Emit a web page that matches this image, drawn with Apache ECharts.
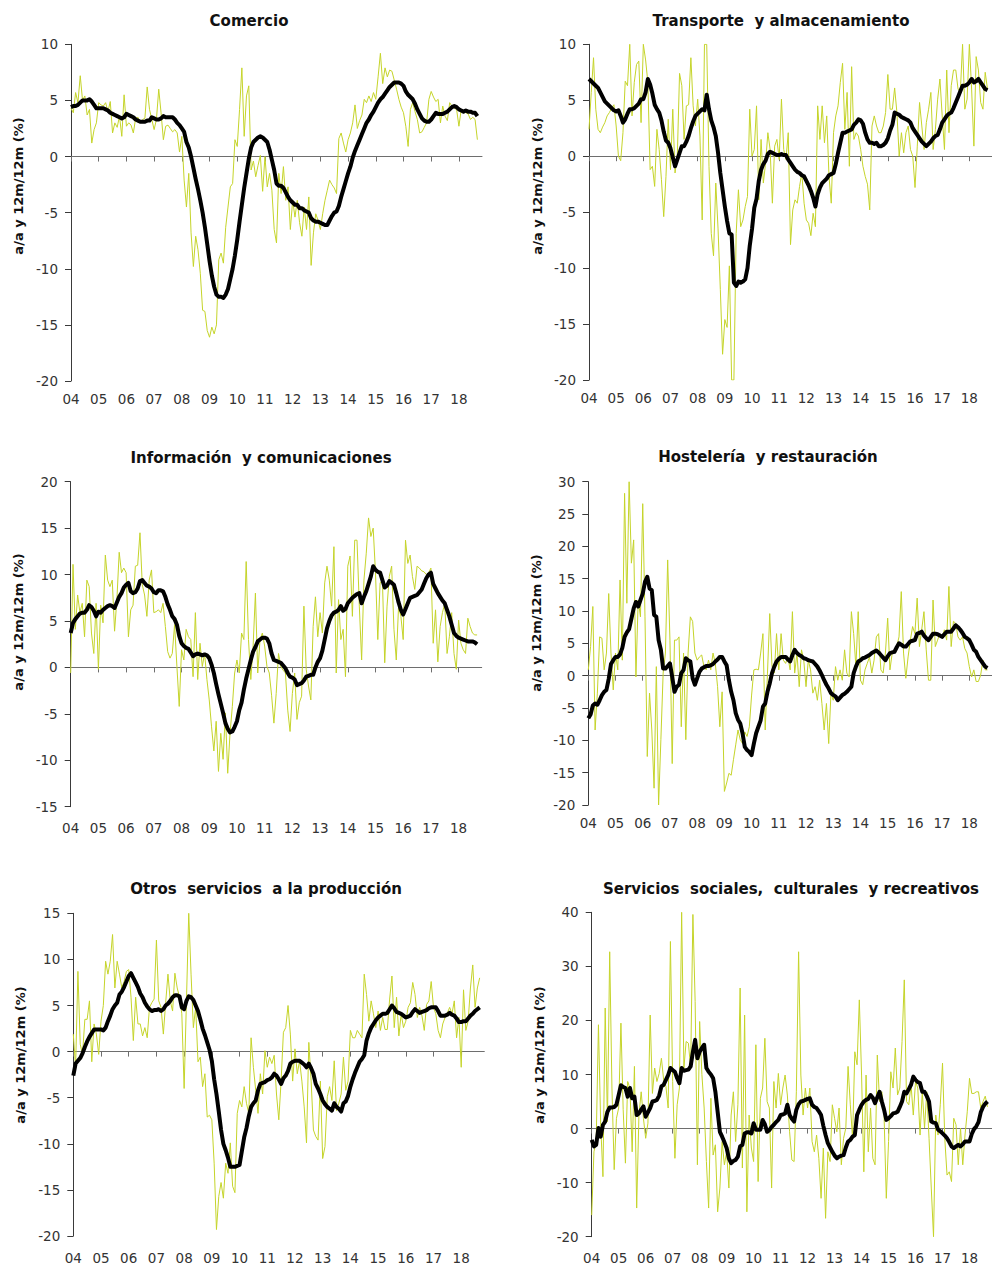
<!DOCTYPE html>
<html lang="es">
<head>
<meta charset="UTF-8">
<title>Servicios: tasas a/a y 12m/12m</title>
<script src="https://cdn.jsdelivr.net/npm/echarts@6.0.0/dist/echarts.min.js"></script>
<style>
    html, body { margin:0; padding:0; background:#fff; }
    #main { width:992px; height:1265px; }
</style>
</head>
<body>
<div id="main"></div>
<script>
// indice de mes: 0 = ene 2004 ... 176 = sep 2018
var yearTicks = [0, 12, 24, 36, 48, 60, 72, 84, 96, 108, 120, 132, 144, 156, 168];
var yearLabels = ['04', '05', '06', '07', '08', '09', '10', '11', '12', '13', '14', '15', '16', '17', '18'];

// Comercio
var comercioAa = [
    4.3, 3.9, 5.7, 4.8, 7.2, 5.0, 5.4, 3.7, 4.2, 1.2, 2.4, 3.0,
    4.8, 4.6, 4.5, 4.8, 4.0, 4.9, 2.1, 3.0, 2.6, 3.6, 1.8, 5.5,
    2.7, 3.0, 2.8, 2.1, 3.4, 3.5, 3.0, 3.3, 3.4, 6.2, 4.2, 3.3,
    2.4, 3.3, 6.0, 3.9, 1.5, 2.7, 2.8, 2.5, 2.2, 2.4, 2.1, 0.4,
    1.8, -2.1, -4.5, -1.5, -6.8, -9.8, -7.1, -8.3, -10.4, -13.7, -13.8, -15.5,
    -16.1, -15.2, -15.8, -15.0, -9.2, -8.6, -9.5, -6.3, -4.5, -2.7, -2.4, 1.5,
    0.9, 4.2, 7.9, 1.8, 5.4, 6.3, -1.2, -0.4, -1.8, -0.8, 0.1, -3.1,
    0.0, -2.7, -1.5, -3.0, -6.5, -7.7, -1.5, -3.3, -0.9, -3.9, -2.7, -6.5,
    -3.9, -5.4, -3.9, -5.9, -7.1, -4.5, -6.5, -3.6, -9.7, -6.8, -5.1, -5.7,
    -6.5, -5.1, -3.9, -3.0, -2.1, -2.5, -2.8, -3.3, 1.6, 2.1, 1.2, 0.4,
    1.5, 2.1, 3.0, 4.6, 2.5, 3.2, 3.7, 5.1, 4.8, 5.4, 4.9, 5.7,
    5.1, 7.1, 9.2, 6.5, 7.9, 7.1, 7.7, 7.6, 6.8, 6.0, 5.1, 4.4,
    3.9, 2.7, 0.9, 4.2, 4.8, 4.0, 3.3, 2.1, 2.2, 2.6, 3.0, 5.1,
    5.8, 5.3, 4.9, 5.1, 3.0, 4.5, 3.6, 3.2, 4.8, 4.5, 4.3, 4.2,
    2.7, 4.2, 4.0, 3.9, 3.8, 3.3, 3.5, 3.3, 1.5
];
var comercio12m = [
    4.4, 4.5, 4.5, 4.6, 4.8, 5.0, 5.0, 5.0, 5.1, 4.9, 4.6, 4.3,
    4.3, 4.3, 4.3, 4.2, 4.1, 3.9, 3.8, 3.7, 3.6, 3.5, 3.4, 3.5,
    3.8, 3.7, 3.6, 3.5, 3.3, 3.2, 3.1, 3.1, 3.1, 3.2, 3.2, 3.5,
    3.4, 3.3, 3.3, 3.4, 3.6, 3.5, 3.5, 3.5, 3.5, 3.3, 3.0, 2.8,
    2.5, 2.2, 1.3, 0.8, 0.0, -1.0, -2.0, -2.9, -3.9, -5.0, -6.3, -7.8,
    -9.3, -10.6, -11.6, -12.3, -12.5, -12.5, -12.6, -12.3, -11.8, -10.9, -10.0, -8.8,
    -7.4, -5.8, -4.3, -2.8, -1.5, -0.2, 0.8, 1.3, 1.5, 1.7, 1.8, 1.7,
    1.5, 1.3, 0.6, -0.3, -1.2, -2.4, -2.6, -2.6, -2.8, -3.2, -3.6, -3.9,
    -4.1, -4.3, -4.3, -4.6, -4.6, -4.8, -4.9, -5.0, -5.5, -5.7, -5.8, -5.8,
    -5.9, -6.0, -6.1, -6.1, -5.7, -5.3, -5.0, -4.9, -4.4, -3.6, -2.9, -2.2,
    -1.5, -0.9, -0.1, 0.5, 1.0, 1.5, 2.0, 2.5, 3.0, 3.3, 3.7, 4.0,
    4.4, 4.8, 5.1, 5.3, 5.6, 5.9, 6.2, 6.4, 6.6, 6.6, 6.6, 6.5,
    6.3, 5.8, 5.5, 5.3, 5.1, 4.7, 4.2, 3.8, 3.4, 3.2, 3.1, 3.1,
    3.3, 3.6, 3.9, 3.8, 3.8, 3.8, 3.9, 4.0, 4.2, 4.4, 4.5, 4.4,
    4.2, 4.1, 4.0, 4.1, 4.0, 4.0, 3.9, 3.9, 3.6
];

// Transporte y almacenamiento
var transporteAa = [
    2.4, 5.7, 8.8, 4.2, 2.4, 2.1, 2.6, 3.0, 3.6, 3.9, 4.3, 4.6,
    2.7, 0.0, -0.4, 2.1, 6.7, 6.3, 10.0, 3.6, 6.6, 8.2, 8.5, 3.0,
    10.0, 8.6, 6.6, -1.2, -0.9, -2.7, 2.4, 0.6, -2.1, -5.4, -1.8, 3.3,
    -1.2, 4.2, -1.5, 0.0, 7.4, 6.3, 1.5, 4.5, 4.6, 8.8, 4.5, 2.7,
    5.1, 1.8, -5.7, 10.0, 10.0, -0.9, -6.9, -8.9, -2.4, -6.5, -11.9, -17.7,
    -14.6, -15.3, -9.8, -20.0, -20.0, -6.9, -3.0, -6.3, -5.7, -4.5, -3.6, 4.2,
    0.0, 0.6, 4.5, -3.9, 1.5, -2.4, -0.6, 2.1, 0.6, -4.2, 0.9, 1.5,
    -0.3, 5.1, 0.6, -0.3, 2.1, -7.9, -4.8, -3.9, -4.2, -2.7, -1.5, -4.2,
    -5.7, -6.0, -7.1, -5.1, -6.3, 4.5, 1.5, 4.5, 1.2, 3.6, -1.8, -4.2,
    2.1, 3.6, 4.5, 6.6, 8.3, 2.4, 5.7, -0.9, 8.0, 1.5, 2.1, 1.8,
    0.6, -0.9, -1.8, -2.5, -4.8, 2.7, 3.6, 2.7, 2.1, 2.1, 2.7, 3.9,
    7.3, 4.2, 4.2, 6.1, 3.9, 0.0, 2.1, 0.3, 2.1, 2.7, 0.6, 0.0,
    -2.8, 0.9, 4.8, 2.7, 0.6, 3.0, 4.2, 5.7, 0.6, 2.4, 5.1, 6.9,
    3.6, 0.6, 7.7, 2.1, 6.3, 7.7, 7.7, 6.0, 5.7, 10.0, 4.2, 5.1,
    10.0, 6.0, 0.9, 8.9, 7.7, 4.8, 4.2, 7.5, 6.0
];
var transporte12m = [
    6.9, 6.7, 6.5, 6.3, 6.1, 5.7, 5.3, 4.9, 4.7, 4.5, 4.3, 4.1,
    4.0, 4.1, 3.6, 3.0, 3.3, 3.8, 4.2, 4.2, 4.3, 4.5, 4.7, 5.1,
    5.1, 5.7, 6.9, 6.4, 5.6, 4.6, 4.2, 3.9, 3.2, 2.2, 1.4, 1.2,
    0.7, -0.1, -0.9, -0.3, 0.3, 0.9, 0.9, 1.3, 1.8, 2.5, 3.1, 3.6,
    3.8, 4.0, 4.2, 4.1, 5.5, 4.2, 3.2, 2.6, 1.8, 0.3, -1.5, -3.0,
    -4.5, -5.8, -6.9, -7.0, -11.3, -11.6, -11.2, -11.3, -11.2, -11.0, -10.0, -8.0,
    -6.5, -4.6, -3.8, -2.2, -1.2, -0.7, -0.4, 0.2, 0.4, 0.3, 0.2, 0.1,
    0.1, 0.2, 0.1, 0.1, -0.3, -0.6, -0.9, -1.2, -1.4, -1.5, -1.7, -1.8,
    -2.2, -2.6, -3.1, -3.7, -4.5, -3.4, -2.8, -2.4, -2.2, -2.0, -1.7, -1.6,
    -1.5, -0.7, 0.3, 1.2, 2.1, 2.1, 2.2, 2.3, 2.4, 2.8, 3.0, 3.3,
    3.2, 2.9, 2.1, 1.5, 1.2, 1.2, 1.1, 1.2, 0.9, 0.9, 1.0, 1.2,
    1.6, 2.3, 2.8, 3.9, 3.8, 3.7, 3.5, 3.4, 3.3, 3.2, 3.0, 2.5,
    2.2, 1.9, 1.6, 1.3, 1.1, 0.9, 1.1, 1.3, 1.6, 1.8, 1.9, 2.4,
    3.0, 3.3, 3.6, 3.8, 3.9, 4.3, 4.8, 5.3, 5.8, 6.3, 6.3, 6.4,
    6.6, 6.9, 6.6, 6.7, 6.9, 6.6, 6.3, 6.0, 5.9
];

// Información y comunicaciones
var informacionAa = [
    -0.6, 11.1, 4.1, 7.8, 5.9, 6.9, 3.3, 9.4, 8.7, 3.7, 1.5, 6.9,
    -0.2, 6.7, 4.8, 12.1, 9.4, 8.7, 9.4, 3.9, 7.3, 12.4, 10.2, 10.7,
    10.2, 3.3, 6.2, 6.7, 10.9, 11.0, 14.5, 8.9, 7.8, 5.5, 9.4, 10.5,
    5.9, 6.0, 6.2, 5.9, 6.9, 4.4, 1.7, 1.0, 1.5, 4.6, 0.1, -4.2,
    1.9, 0.8, 4.1, 3.3, 3.0, -1.0, 5.9, -1.3, 2.6, 0.1, 1.5, -1.3,
    -3.5, -6.4, -9.0, -5.8, -11.2, -7.1, -9.9, -4.9, -11.4, -7.1, -4.2, -0.6,
    0.8, -0.6, 3.7, 3.0, 11.4, 3.0, -1.3, 2.3, 8.0, -0.6, 3.0, 3.7,
    2.3, 0.1, -0.6, -3.0, -6.0, -2.8, 1.5, 0.1, -0.3, -0.6, -4.6, -6.9,
    -2.8, -0.6, -5.6, -3.8, -3.1, 6.6, -0.2, -2.0, -3.5, 4.4, 7.6, 3.3,
    5.9, 3.7, 9.1, 10.9, 9.4, 6.6, 13.0, -0.6, 7.3, 3.0, 4.1, -1.0,
    10.9, 12.0, 5.5, 13.7, 13.7, 6.6, 0.8, 9.4, 12.3, 16.1, 14.1, 15.0,
    10.2, 3.0, 9.1, 9.4, 0.5, 6.6, 9.8, 10.9, 4.1, 0.8, 6.6, 5.5,
    3.0, 13.7, 11.2, 12.1, 9.8, 8.4, 10.9, 10.7, 10.4, 10.3, 10.0, 10.2,
    10.7, 2.6, 6.2, 0.6, 4.4, 5.9, 6.9, 1.5, 3.3, 5.9, 1.5, -0.2,
    5.1, 2.6, 1.9, 1.5, 5.3, 4.4, 3.7, 3.5, 3.5
];
var informacion12m = [
    3.7, 4.8, 5.2, 5.5, 5.8, 5.9, 5.9, 6.2, 6.7, 6.5, 6.1, 5.5,
    6.0, 5.9, 6.2, 6.4, 6.6, 6.7, 6.6, 6.4, 7.0, 7.6, 8.0, 8.6,
    8.9, 9.1, 8.2, 8.0, 8.1, 8.5, 9.3, 9.4, 9.1, 8.8, 8.7, 8.5,
    8.1, 8.0, 8.3, 8.3, 8.2, 7.6, 6.8, 6.2, 5.5, 5.2, 4.6, 3.4,
    2.6, 2.3, 2.1, 2.0, 1.6, 1.2, 1.4, 1.5, 1.4, 1.3, 1.4, 1.3,
    1.0, 0.3, -0.6, -1.8, -2.9, -3.9, -4.9, -6.0, -6.6, -7.0, -6.9, -6.4,
    -5.8, -4.6, -3.8, -2.4, -1.2, -0.2, 0.8, 1.7, 2.2, 2.8, 3.0, 3.2,
    3.2, 3.1, 2.6, 1.5, 0.8, 0.7, 0.6, 0.5, 0.2, -0.1, -0.6, -1.0,
    -1.1, -1.3, -1.9, -1.8, -1.7, -1.4, -1.0, -0.9, -0.8, -0.8, 0.0, 0.6,
    1.0, 1.8, 3.0, 4.2, 5.0, 5.6, 5.9, 6.0, 6.2, 6.6, 6.1, 6.3,
    6.9, 7.2, 7.5, 7.7, 7.9, 8.0, 6.9, 7.6, 8.2, 9.0, 9.8, 10.9,
    10.5, 10.3, 10.2, 9.4, 8.6, 8.8, 9.3, 9.1, 8.9, 8.0, 7.0, 6.2,
    5.7, 6.3, 6.9, 7.5, 7.6, 7.7, 7.8, 8.1, 8.4, 9.0, 9.6, 10.0,
    10.2, 9.0, 8.5, 8.0, 7.6, 7.2, 6.9, 6.2, 5.5, 4.6, 3.7, 3.4,
    3.2, 3.1, 3.0, 2.9, 2.8, 2.8, 2.8, 2.7, 2.5
];

// Hostelería y restauración
var hosteleriaAa = [
    0.9, 4.5, 10.7, -8.4, -2.7, 6.0, 5.8, 0.9, 3.5, 12.7, 3.5, -2.2,
    3.5, 0.9, 14.8, 2.4, 28.2, 11.2, 30.0, 17.4, 21.0, -0.2, 11.7, 9.1,
    26.6, 9.1, -12.5, -2.7, -8.4, -17.4, 1.4, -20.0, -9.9, 0.4, 3.5, 17.9,
    5.5, -13.6, 5.5, 5.5, 6.0, -7.9, 3.5, -9.9, 3.5, 9.1, 8.4, 3.5,
    2.4, 2.9, 3.2, 1.4, 0.9, 2.4, 0.9, 3.5, 1.9, -1.7, -7.9, -2.5,
    -17.9, -16.6, -15.1, -15.4, -13.0, -10.7, -8.4, -9.9, -10.5, -8.7, -9.4, -7.9,
    -3.0, 0.9, 1.0, 0.9, 3.5, 6.5, -8.4, 0.4, 9.6, 1.4, 0.4, 6.5,
    0.9, 6.5, 2.4, 1.9, 2.9, 0.9, 9.9, 0.4, 3.5, -1.7, 4.0, 2.4,
    -1.7, 2.4, 0.9, -2.7, -1.7, -3.8, -0.7, -4.3, -8.4, -4.3, -10.5, -2.7,
    -3.8, 1.4, -0.7, 0.9, -0.7, 4.0, 0.4, -0.2, 9.9, 6.5, 1.4, 9.9,
    -0.7, -1.4, 0.9, 1.9, 2.9, 0.4, 2.4, 6.0, 6.5, 0.9, 0.4, 3.5,
    8.9, 0.9, 3.5, 4.0, 4.5, 6.0, 13.0, 3.5, -0.4, 2.9, 5.5, 7.6,
    6.5, 12.0, 4.5, 7.1, 9.9, 4.0, -0.7, -0.7, 11.7, 4.5, 5.5, 6.5,
    6.0, 7.1, 5.5, 13.8, 4.5, 8.4, 8.1, 6.0, 5.5, 6.0, 4.2, 3.5,
    1.4, -0.2, 0.9, -0.9, -0.9, 0.1, 2.4, 0.9, 0.9
];
var hosteleria12m = [
    -6.6, -6.0, -4.6, -4.3, -4.5, -3.8, -3.0, -2.5, -2.2, -0.5, 1.8, 2.4,
    2.9, 2.9, 3.3, 4.3, 6.0, 6.7, 7.2, 8.8, 10.4, 11.4, 10.7, 11.7,
    12.7, 14.5, 15.3, 13.5, 13.2, 9.4, 9.1, 5.5, 4.0, 1.1, 1.1, 1.5,
    1.9, -0.2, -2.5, -1.7, -1.4, 0.4, 0.9, 2.7, 2.4, 2.2, -0.4, -1.4,
    -0.4, 0.6, 1.1, 1.3, 1.5, 1.5, 1.6, 1.8, 2.2, 2.5, 2.9, 2.9,
    2.2, 1.6, -0.7, -2.5, -3.8, -5.8, -6.8, -7.4, -8.9, -11.0, -11.5, -11.8,
    -12.3, -10.5, -8.9, -7.9, -6.9, -4.8, -4.3, -2.5, -1.2, 0.4, 1.4, 2.2,
    2.6, 2.9, 2.9, 2.9, 2.5, 2.2, 3.2, 4.0, 3.5, 3.2, 3.0, 2.7,
    2.6, 2.4, 2.3, 2.2, 1.8, 1.4, 0.8, 0.1, -0.7, -1.4, -2.0, -2.7,
    -3.0, -3.2, -3.8, -3.4, -3.0, -2.8, -2.5, -2.1, -1.7, 0.4, 1.4, 2.2,
    2.4, 2.7, 2.8, 3.0, 3.2, 3.5, 3.7, 3.9, 3.6, 3.2, 2.8, 2.4,
    3.0, 3.5, 3.6, 3.7, 4.4, 5.0, 4.8, 4.5, 4.5, 4.9, 5.3, 5.4,
    5.5, 6.5, 6.6, 6.8, 6.2, 5.8, 5.5, 6.0, 6.5, 6.5, 6.4, 6.2,
    6.0, 6.4, 6.8, 6.8, 6.8, 7.3, 7.8, 7.5, 7.1, 6.6, 6.0, 5.8,
    5.5, 4.8, 4.0, 3.7, 2.9, 2.4, 1.9, 1.4, 1.2
];

// Otros servicios a la producción
var otrosAa = [
    1.9, -1.7, 8.7, 0.8, -0.3, 3.5, 3.5, 5.5, -1.1, 3.0, 1.9, -0.3,
    3.3, 5.0, 9.8, 8.4, 9.8, 12.7, 6.9, 9.8, 8.4, 6.9, 7.6, 8.7,
    8.9, 5.9, 1.2, 5.9, 3.0, 3.0, 1.7, 2.6, 1.5, 4.8, 5.3, 5.7,
    12.1, 5.5, 4.8, 1.9, 5.3, 8.4, 5.5, 4.4, 8.5, 6.9, 5.9, 4.1,
    -4.0, 5.5, 15.0, 8.4, 2.6, 4.8, -1.1, -0.6, -3.8, -2.4, -7.1, -6.9,
    -7.4, -12.1, -19.3, -15.7, -14.2, -15.9, -12.1, -13.2, -9.9, -14.6, -15.3, -6.7,
    -5.3, -6.0, -3.8, -5.6, -6.7, 1.5, -1.7, -4.2, -6.7, -2.4, -4.6, 0.1,
    -1.7, -0.6, -1.3, -0.4, -4.6, -7.4, -3.2, 2.1, 2.6, 5.0, 1.9, -3.2,
    0.3, -2.4, -1.0, -3.2, -6.0, -9.9, 1.0, -3.2, -8.5, -9.2, -9.6, -3.2,
    -11.6, -10.3, -4.9, -3.8, -5.3, -1.0, -6.4, -5.6, -4.6, -0.6, -4.2, -3.2,
    2.3, 1.5, 1.5, 2.3, 1.9, 1.5, 8.4, 6.2, 3.3, 5.5, 4.1, 2.6,
    4.4, 2.3, 3.7, 2.4, 2.4, 5.7, 8.2, 2.6, 5.9, 1.7, 4.1, 2.6,
    3.3, 4.8, 5.3, 7.5, 6.2, 3.7, 4.8, 3.9, 2.3, 5.1, 5.5, 7.6,
    4.8, 4.1, 2.3, 1.5, 3.0, 3.7, 4.2, 4.8, 4.1, 5.5, 1.5, 3.7,
    -1.7, 6.7, 2.3, 3.3, 6.9, 9.4, 4.8, 6.9, 8.0
];
var otros12m = [
    -2.6, -1.3, -1.0, -0.7, -0.2, 0.5, 1.1, 1.6, 2.0, 2.4, 2.4, 2.4,
    2.4, 2.3, 2.6, 3.3, 3.9, 4.6, 5.0, 5.3, 6.2, 6.5, 7.0, 7.6,
    8.2, 8.5, 8.0, 7.5, 7.0, 6.3, 5.9, 5.3, 4.9, 4.6, 4.4, 4.5,
    4.5, 4.6, 4.4, 4.6, 5.0, 5.2, 5.5, 5.9, 6.1, 6.1, 6.0, 4.8,
    4.6, 5.5, 6.0, 5.9, 5.6, 5.0, 4.4, 3.5, 2.5, 1.8, 1.0, 0.2,
    -1.0, -3.0, -4.6, -6.5, -8.5, -10.0, -10.7, -11.5, -12.5, -12.5, -12.5, -12.4,
    -12.3, -10.8, -9.3, -8.3, -7.0, -6.0, -5.6, -5.3, -4.2, -3.5, -3.4, -3.3,
    -3.1, -3.0, -2.8, -2.4, -2.6, -3.0, -3.5, -2.9, -2.6, -2.1, -1.3, -1.1,
    -1.0, -1.0, -1.0, -1.2, -1.4, -1.7, -1.3, -1.8, -2.4, -3.5, -4.0, -4.6,
    -5.3, -5.7, -6.0, -6.2, -6.4, -5.6, -6.0, -6.2, -6.5, -5.6, -5.4, -4.8,
    -3.8, -3.0, -2.3, -1.7, -1.1, -0.8, -0.4, 1.2, 2.0, 2.6, 3.0, 3.4,
    3.7, 3.9, 4.1, 4.1, 4.2, 4.6, 5.0, 4.7, 4.3, 4.2, 4.1, 3.9,
    3.7, 3.8, 3.9, 4.3, 4.6, 4.4, 4.2, 4.3, 4.4, 4.5, 4.7, 4.8,
    4.8, 4.8, 4.4, 3.9, 3.9, 3.9, 4.0, 4.2, 4.0, 3.9, 3.6, 3.2,
    3.2, 3.3, 3.3, 3.6, 3.9, 4.1, 4.4, 4.6, 4.8
];

// Servicios sociales, culturales y recreativos
var socialesAa = [
    -16.0, -4.3, -2.4, 19.2, 0.7, -8.9, 22.3, 1.3, 32.7, 7.5, -7.6, 1.9,
    3.8, 19.5, 3.5, -6.4, 8.7, 7.5, -4.3, 11.5, -14.7, 2.5, 6.8, 1.9,
    -1.8, 1.0, 21.0, 6.5, 11.2, 8.7, 10.2, 13.0, 9.0, 7.8, 3.8, 34.6,
    8.7, -5.5, 4.4, 7.5, 40.0, 11.2, 16.1, 15.8, 11.2, 39.6, 23.5, -6.7,
    19.8, 10.0, 3.8, -6.1, -14.7, 5.6, -4.9, -3.0, -15.4, -11.0, -2.4, -6.7,
    -4.3, -11.0, 2.5, 6.8, -2.4, 4.4, 26.0, -7.3, 21.0, -15.4, 2.5, -3.6,
    -6.1, 15.5, -9.8, 5.6, 7.5, 16.7, 5.0, 3.8, -11.0, 8.7, 3.8, 10.2,
    4.4, 7.5, 9.9, 6.2, -0.6, -5.8, -6.1, 6.8, 32.7, 9.9, 2.5, 7.5,
    3.8, 7.5, -2.4, -4.3, -1.2, -5.5, -12.9, -3.6, -16.6, -4.3, -6.1, 4.4,
    1.9, -0.6, 3.8, -6.7, -1.8, 0.1, 11.5, 4.4, -1.8, 14.2, 11.8, 23.8,
    9.9, -8.0, 9.9, -4.3, 3.8, -5.5, -6.7, 13.6, 5.0, 6.8, 2.5, -12.9,
    -2.4, 10.5, 7.5, 14.9, 6.2, 7.5, 16.1, 27.5, 5.0, 4.4, 8.1, 2.5,
    8.7, 7.5, -1.2, 6.8, 0.1, 6.8, -1.8, -11.0, -20.0, 2.5, -1.2, 4.4,
    12.1, -1.8, -8.6, -8.0, -9.8, 1.9, 0.7, -6.7, 0.1, -6.7, -1.2, 3.1,
    9.3, 6.5, 6.5, 6.8, 6.8, 3.8, 5.0, 6.0, 4.0
];
var sociales12m = [
    -2.1, -3.3, -3.0, 0.1, -1.5, 0.7, 1.3, 3.1, 3.9, 3.9, 4.0, 4.4,
    6.2, 8.0, 7.7, 7.5, 5.9, 7.5, 5.6, 5.9, 2.5, 2.8, 3.5, 4.1,
    2.2, 3.0, 3.8, 5.0, 5.1, 5.3, 6.1, 7.8, 8.1, 9.0, 9.9, 11.2,
    10.8, 10.5, 9.3, 8.4, 11.2, 10.7, 10.8, 10.9, 11.5, 14.2, 16.4, 13.0,
    14.2, 14.9, 15.5, 11.2, 10.5, 10.0, 9.3, 6.8, 3.1, -0.6, -1.5, -2.5,
    -3.6, -5.5, -6.4, -6.0, -5.8, -5.2, -3.3, -3.0, -0.9, -0.7, -0.7, -0.9,
    1.0, -0.2, -0.2, -0.2, 1.6, 0.8, -0.6, -0.3, 0.3, 0.7, 1.2, 1.6,
    2.5, 2.6, 2.8, 4.4, 2.5, 1.8, 1.3, 3.5, 4.5, 5.0, 5.1, 5.3,
    5.5, 5.6, 4.4, 4.0, 3.8, 3.2, 2.5, 0.5, -1.2, -2.7, -3.5, -4.3,
    -5.0, -5.5, -5.2, -5.0, -4.9, -3.5, -2.4, -2.1, -1.5, -1.2, 2.5, 3.5,
    4.4, 5.0, 5.3, 5.5, 6.2, 5.7, 4.7, 5.8, 6.8, 5.0, 3.5, 1.6,
    1.9, 2.3, 2.8, 2.9, 3.1, 4.0, 5.0, 6.8, 6.5, 7.3, 8.1, 9.6,
    9.0, 8.6, 8.4, 6.8, 6.8, 6.0, 5.0, 1.3, 1.1, 1.0, -0.2, -0.5,
    -0.9, -1.3, -1.8, -2.5, -3.3, -3.6, -3.3, -3.0, -3.3, -2.9, -2.4, -2.4,
    -2.4, -1.0, -0.1, 0.4, 1.2, 3.0, 4.0, 4.6, 5.0
];

var AA_COLOR = '#c5d42a';
var LINE_COLOR = '#3a3a3a';
var TEXT_COLOR = '#333333';
var FONT = '"DejaVu Sans", Verdana, sans-serif';

// posicion de cada panel en pixeles
var panels = [
    {title: 'Comercio', aa: comercioAa, m12: comercio12m,
     left: 71, top: 44.3, height: 336.7, min: -20, max: 10, step: 5,
     tx: 249, ty: 21, nx: 18.5, ny: 186, xm: 11},
    {title: 'Transporte  y almacenamiento', aa: transporteAa, m12: transporte12m,
     left: 589, top: 44.3, height: 335.7, min: -20, max: 10, step: 5,
     tx: 781, ty: 21, nx: 537, ny: 186, xm: 11},
    {title: 'Información  y comunicaciones', aa: informacionAa, m12: informacion12m,
     left: 70.7, top: 481.7, height: 325, min: -15, max: 20, step: 5,
     tx: 261, ty: 458, nx: 18, ny: 622, xm: 14},
    {title: 'Hostelería  y restauración', aa: hosteleriaAa, m12: hosteleria12m,
     left: 588.3, top: 481.7, height: 323.3, min: -20, max: 30, step: 5,
     tx: 768, ty: 457, nx: 536, ny: 623, xm: 11},
    {title: 'Otros  servicios  a la producción', aa: otrosAa, m12: otros12m,
     left: 73.3, top: 913.3, height: 325, min: -20, max: 15, step: 5,
     tx: 266, ty: 889, nx: 20.5, ny: 1055, xm: 15},
    {title: 'Servicios  sociales,  culturales  y recreativos', aa: socialesAa, m12: sociales12m,
     left: 591.7, top: 912.3, height: 324.4, min: -20, max: 40, step: 10,
     tx: 791, ty: 889, nx: 539, ny: 1055, xm: 14}
];

function toPoints(arr) {
    return arr.map(function (v, i) { return [i, v]; });
}

var grids = [], xAxes = [], yAxes = [], series = [], graphics = [];

panels.forEach(function (p, g) {
    grids.push({left: p.left, top: p.top, width: 411, height: p.height});

    // eje con las etiquetas de los años, abajo
    xAxes.push({
        type: 'value', gridIndex: g, min: 0, max: 178, position: 'bottom',
        axisLine: {show: false, onZero: false},
        axisTick: {show: false},
        splitLine: {show: false},
        axisLabel: {
            customValues: yearTicks, margin: p.xm, color: TEXT_COLOR,
            fontFamily: FONT, fontSize: 13.5,
            formatter: function (v) { return yearLabels[Math.round(v / 12)]; }
        }
    });
    // linea del cero con las marcas de año
    xAxes.push({
        type: 'value', gridIndex: g, min: 0, max: 178, position: 'top',
        axisLine: {show: true, onZero: true, lineStyle: {color: '#6e6e6e', width: 1}},
        axisTick: {show: true, inside: true, length: 5, customValues: yearTicks,
                   lineStyle: {color: '#6e6e6e', width: 1}},
        axisLabel: {show: false},
        splitLine: {show: false}
    });

    yAxes.push({
        type: 'value', gridIndex: g, min: p.min, max: p.max, interval: p.step,
        axisLine: {show: true, onZero: false, lineStyle: {color: LINE_COLOR, width: 1}},
        axisTick: {show: true, length: 6, lineStyle: {color: LINE_COLOR, width: 1}},
        splitLine: {show: false},
        axisLabel: {margin: 13, color: TEXT_COLOR, fontFamily: FONT, fontSize: 13.5}
    });

    series.push({
        type: 'line', xAxisIndex: g * 2, yAxisIndex: g, data: toPoints(p.aa),
        symbol: 'none', lineStyle: {color: AA_COLOR, width: 1}, z: 2
    });
    series.push({
        type: 'line', xAxisIndex: g * 2, yAxisIndex: g, data: toPoints(p.m12),
        symbol: 'none', lineStyle: {color: '#000', width: 4, join: 'round'}, z: 3
    });

    graphics.push({
        type: 'text', x: p.tx, y: p.ty,
        style: {text: p.title, font: 'bold 15px ' + FONT, fill: '#111',
                textAlign: 'center', textVerticalAlign: 'middle',
                align: 'center', verticalAlign: 'middle'}
    });
    graphics.push({
        type: 'text', x: p.nx, y: p.ny, rotation: Math.PI / 2,
        style: {text: 'a/a y 12m/12m (%)', font: 'bold 13px ' + FONT, fill: '#111',
                textAlign: 'center', textVerticalAlign: 'middle',
                align: 'center', verticalAlign: 'middle'}
    });
});

var chart = echarts.init(document.getElementById('main'), null, {renderer: 'svg'});
chart.setOption({
    animation: false,
    backgroundColor: '#fff',
    grid: grids,
    xAxis: xAxes,
    yAxis: yAxes,
    series: series,
    graphic: graphics
});
</script>
</body>
</html>
